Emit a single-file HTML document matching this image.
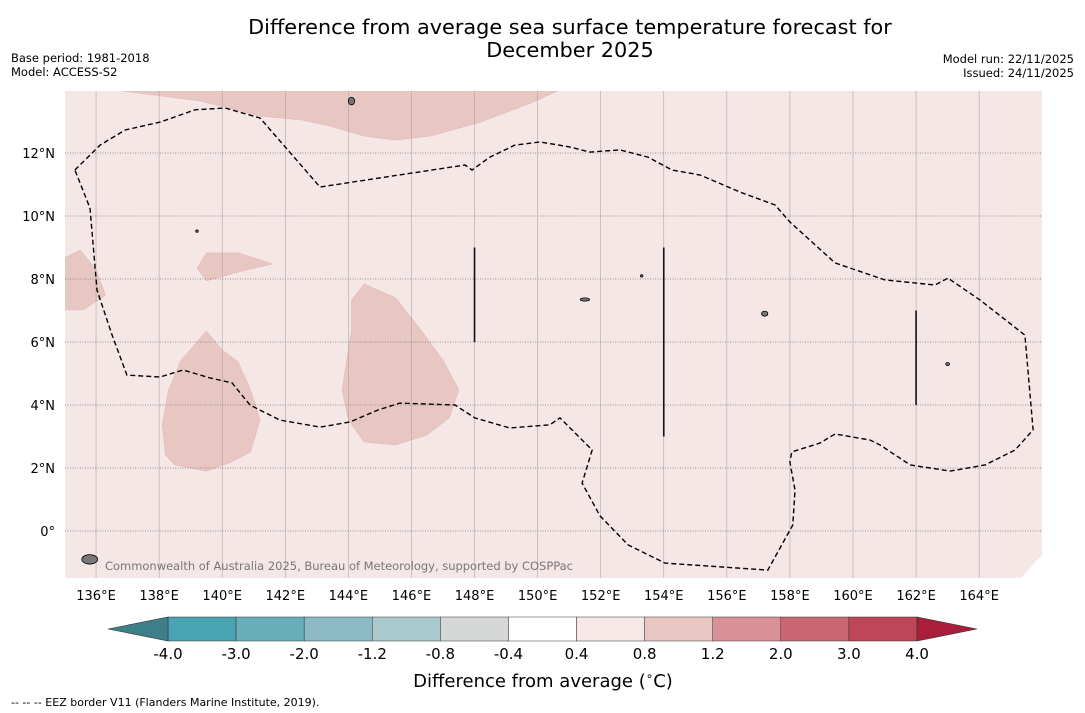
<!DOCTYPE html>
<html><head><meta charset="utf-8">
<style>
body{margin:0;background:#fff;font-family:"DejaVu Sans","Liberation Sans",sans-serif;}
svg{display:block}
</style></head>
<body>
<svg id="chart" width="1085" height="713" xmlns="http://www.w3.org/2000/svg" font-family="DejaVu Sans, Liberation Sans, sans-serif">
<text x="570" y="34" text-anchor="middle" font-size="20.8">Difference from average sea surface temperature forecast for</text>
<text x="570" y="57" text-anchor="middle" font-size="20.8">December 2025</text>
<text x="11" y="62" font-size="11.5">Base period: 1981-2018</text>
<text x="11" y="76" font-size="11.5">Model: ACCESS-S2</text>
<text x="1074" y="63" text-anchor="end" font-size="11.5">Model run: 22/11/2025</text>
<text x="1074" y="77" text-anchor="end" font-size="11.5">Issued: 24/11/2025</text>
<g id="map"></g>
<g id="cbar"></g>
<text x="543" y="687" text-anchor="middle" font-size="18">Difference from average (<tspan font-size="12" dy="-7">∘</tspan><tspan dy="7">C)</tspan></text>
<text x="11" y="706" font-size="11">--  --  -- EEZ border V11 (Flanders Marine Institute, 2019).</text>
</svg>
<script>
const lonTicks=[136,138,140,142,144,146,148,150,152,154,156,158,160,162,164];
const latTicks=[0,2,4,6,8,10,12];
const levels=[-4.0,-3.0,-2.0,-1.2,-0.8,-0.4,0.4,0.8,1.2,2.0,3.0,4.0];
const levelColors=["#4aa3b2","#6aaeba","#8bbac5","#abcace","#d5d6d6","#ffffff","#f5e8e7","#e8c7c3","#d99097","#cb6771","#be4656"];
const patchTop=[[136.6,14],[139.3,13.65],[141.2,13.17],[142.5,13.05],[143.4,12.86],[144.5,12.54],[145.5,12.41],[146.6,12.54],[148.2,12.98],[149.8,13.59],[150.7,14]];
const patchLeft=[[135,8.67],[135.5,8.92],[136.0,8.29],[136.3,7.49],[135.6,7.02],[135,7.02]];
const patchSmall=[[139.5,8.83],[140.5,8.83],[141.6,8.48],[140.5,8.22],[139.5,7.94],[139.2,8.35]];
const patchA=[[139.5,6.35],[140.0,5.75],[140.5,5.37],[140.9,4.48],[141.2,3.52],[140.9,2.51],[140.3,2.19],[139.5,1.9],[138.5,2.1],[138.2,2.41],[138.1,3.37],[138.3,4.48],[138.7,5.43]];
const patchB=[[144.5,7.84],[145.5,7.4],[146.3,6.38],[147.0,5.43],[147.5,4.48],[147.2,3.59],[146.5,3.05],[145.5,2.73],[144.5,2.83],[144.0,3.52],[143.8,4.48],[144.1,6.38],[144.1,7.33]];
const eez=[[135.33,11.46],[136.13,12.25],[136.92,12.73],[138.03,12.98],[139.14,13.37],[140.09,13.43],[141.2,13.11],[143.1,10.92],[145.0,11.21],[147.7,11.62],[147.92,11.46],[148.49,11.87],[149.28,12.25],[150.08,12.35],[151.03,12.19],[151.66,12.03],[152.61,12.1],[153.5,11.87],[154.26,11.46],[155.15,11.3],[156.42,10.76],[157.53,10.35],[158.0,9.81],[159.43,8.51],[161.01,7.97],[162.6,7.81],[163.01,8.03],[164.03,7.33],[165.45,6.22],[165.71,3.21],[165.14,2.57],[164.19,2.1],[163.08,1.9],[161.81,2.1],[160.86,2.73],[160.54,2.89],[159.43,3.08],[158.95,2.79],[158.06,2.51],[158.0,2.19],[158.16,1.3],[158.09,0.19],[157.3,-1.24],[154.04,-1.02],[152.87,-0.44],[151.98,0.48],[151.41,1.52],[151.73,2.57],[151.19,3.11],[150.71,3.59],[150.39,3.37],[149.12,3.27],[148.01,3.59],[147.38,4.0],[145.64,4.06],[144.94,3.84],[144.05,3.46],[143.1,3.3],[141.83,3.52],[140.88,4.0],[140.31,4.7],[139.61,4.86],[138.76,5.11],[138.03,4.89],[136.98,4.95],[136.51,6.22],[136.03,7.65],[135.81,10.25],[135.33,11.46]];
const tracks=[[148,6,9],[154,3,9],[162,4,7]];
const islands=[[135.8,-0.9,0.25,0.15],[139.2,9.52,0.04,0.04],[144.1,13.65,0.1,0.12],[151.5,7.35,0.15,0.05],[157.2,6.9,0.1,0.08],[163.0,5.3,0.06,0.05],[153.3,8.1,0.04,0.04]];

const NS="http://www.w3.org/2000/svg";
const X0=64.5,Y0=531,KX=31.54,KY=31.5;
const xs=lon=>X0+(lon-135)*KX;
const ys=lat=>Y0-lat*KY;
const mTop=91,mBot=578,mLeft=65,mRight=1042;
function mk(tag,attrs,parent){const e=document.createElementNS(NS,tag);for(const k in attrs)e.setAttribute(k,attrs[k]);parent.appendChild(e);return e;}
const map=document.getElementById('map');
const defs=mk('defs',{},map);
const cp=mk('clipPath',{id:'clip'},defs);
mk('rect',{x:mLeft,y:mTop,width:mRight-mLeft,height:mBot-mTop},cp);
const bg=mk('rect',{x:mLeft,y:mTop,width:mRight-mLeft,height:mBot-mTop,fill:'#f4e7e6'},map);


const g=mk('g',{'clip-path':'url(#clip)'},map);
const pts=a=>a.map(p=>xs(p[0]).toFixed(1)+','+ys(p[1]).toFixed(1)).join(' ');
[['patch-north',patchTop],['patch-west',patchLeft],['patch-small',patchSmall],['patch-south-west',patchA],['patch-central',patchB]].forEach(([n,a])=>{
  const p=mk('polygon',{points:pts(a),fill:'#e8c7c3',stroke:'#dcb5b1','stroke-width':0.5},g);
  
  
});
lonTicks.forEach(l=>{
  const ln=mk('line',{x1:xs(l),x2:xs(l),y1:mTop,y2:mBot,stroke:'#999','stroke-width':0.6,opacity:0.8},g);
  
  
  const t=mk('text',{x:xs(l),y:600,'text-anchor':'middle','font-size':13},map);
  t.textContent=l+'°E';
  
  
});
latTicks.forEach(l=>{
  const ln=mk('line',{x1:mLeft,x2:mRight,y1:ys(l),y2:ys(l),stroke:'#777','stroke-width':0.7,'stroke-dasharray':'1,1.5'},g);
  
  
  const t=mk('text',{x:55,y:ys(l)+5,'text-anchor':'end','font-size':13},map);
  t.textContent=(l===0?'0':l+'')+'°'+(l===0?'':'N');
  
  
});
const ez=mk('polyline',{points:pts(eez),fill:'none',stroke:'#000','stroke-width':1.4,'stroke-dasharray':'5,3'},g);


tracks.forEach(t=>{
  const l=mk('line',{x1:xs(t[0]),x2:xs(t[0]),y1:ys(t[1]),y2:ys(t[2]),stroke:'#111','stroke-width':1.6},g);
  
  
});
islands.forEach(i=>{
  const e=mk('ellipse',{cx:xs(i[0]),cy:ys(i[1]),rx:i[2]*KX,ry:i[3]*KY,fill:'#777',stroke:'#000','stroke-width':0.8},g);
  
  
});
const corner=mk('polygon',{points:`${mRight},555 ${mRight},${mBot+1} 1020,${mBot+1}`,fill:'#fff'},map);


const cr=mk('text',{x:105,y:570,'font-size':11.5,fill:'#777',textLength:468},map);
cr.textContent='Commonwealth of Australia 2025, Bureau of Meteorology, supported by COSPPac';



const cb=document.getElementById('cbar');
const cx0=168,cx1=917,cy0=617,cy1=641,n=levelColors.length,w=(cx1-cx0)/n;
levelColors.forEach((c,i)=>{
  const r=mk('rect',{x:cx0+i*w,y:cy0,width:w,height:cy1-cy0,fill:c,stroke:'#333','stroke-width':0.5},cb);
  
  
});
const lt=mk('polygon',{points:`${cx0},${cy0} ${cx0},${cy1} 108,629`,fill:'#3d7f88',stroke:'#333','stroke-width':0.6},cb);


const rt=mk('polygon',{points:`${cx1},${cy0} ${cx1},${cy1} 977,629`,fill:'#a81e3b',stroke:'#333','stroke-width':0.6},cb);


levels.forEach((v,i)=>{
  const t=mk('text',{x:cx0+i*w,y:659,'text-anchor':'middle','font-size':15},cb);
  t.textContent=v.toFixed(1);
  
  
});
</script>
</body></html>
